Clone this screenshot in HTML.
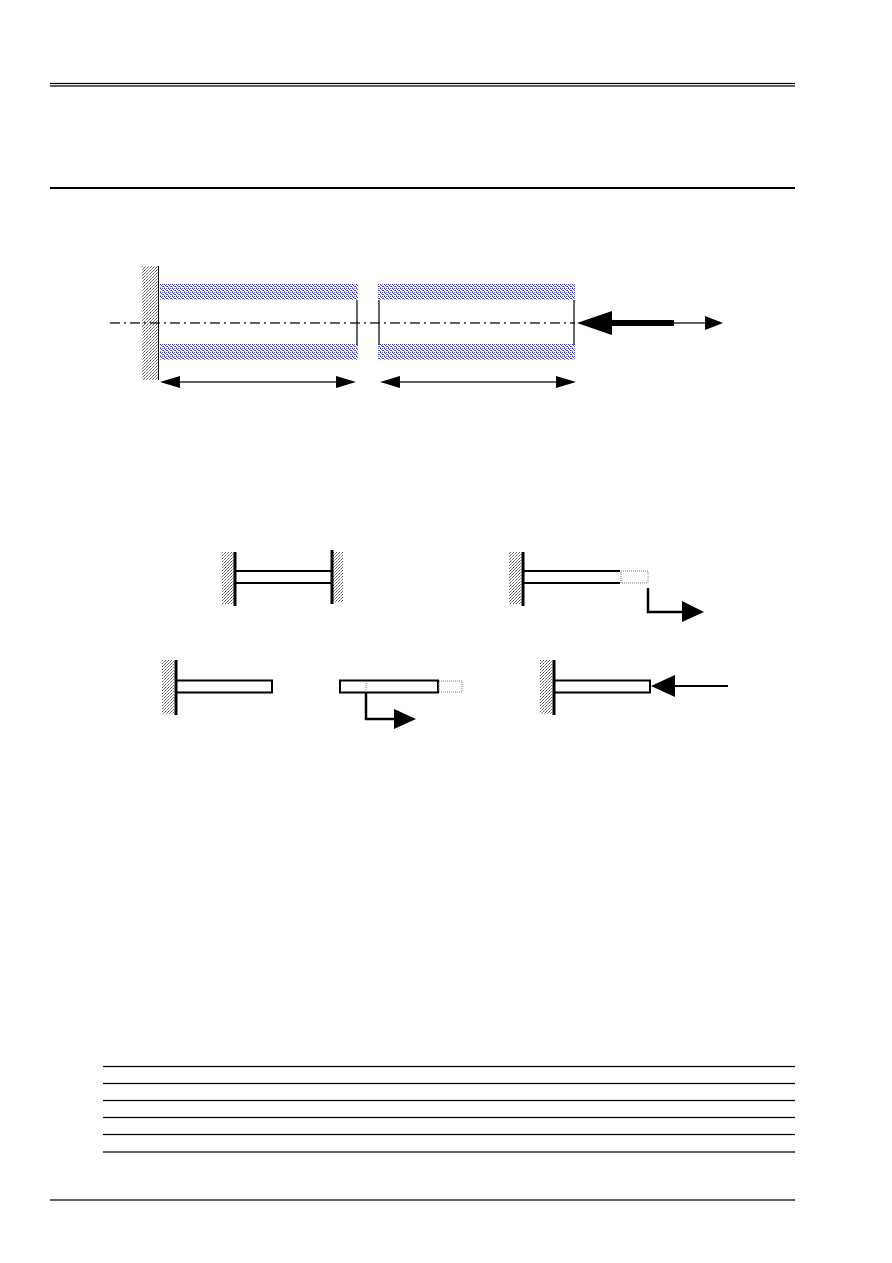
<!DOCTYPE html>
<html><head><style>html,body{margin:0;padding:0;background:#fff;}svg{display:block;}</style></head>
<body>
<svg width="892" height="1263" viewBox="0 0 892 1263" xmlns="http://www.w3.org/2000/svg">
<defs>
<pattern id="h" width="3" height="3" patternUnits="userSpaceOnUse"><rect width="3" height="3" fill="#fff"/><rect x="0" y="0" width="1" height="1" fill="#555"/><rect x="2" y="1" width="1" height="1" fill="#777"/><rect x="1" y="2" width="1" height="1" fill="#999"/></pattern>
<pattern id="b" width="4" height="4" patternUnits="userSpaceOnUse"><rect width="4" height="4" fill="#fff"/><rect x="0" y="0" width="1" height="1" fill="#33c"/><rect x="2" y="0" width="1" height="1" fill="#66d"/><rect x="1" y="1" width="1" height="1" fill="#44c"/><rect x="3" y="2" width="1" height="1" fill="#33c"/><rect x="0" y="3" width="1" height="1" fill="#77d"/><rect x="2" y="2" width="1" height="1" fill="#55c"/></pattern>
<pattern id="d" width="2" height="2" patternUnits="userSpaceOnUse"><rect width="2" height="2" fill="#fff"/><rect width="1" height="1" fill="#888"/></pattern>
</defs>
<g stroke="#000" fill="none">
<line x1="50" y1="83.5" x2="795" y2="83.5" stroke-width="1.3"/>
<line x1="50" y1="86" x2="795" y2="86" stroke-width="1.3"/>
<line x1="50" y1="188" x2="795" y2="188" stroke-width="2"/>
<g stroke-width="1.2">
<line x1="103" y1="1066.5" x2="795" y2="1066.5"/>
<line x1="103" y1="1083.5" x2="795" y2="1083.5"/>
<line x1="103" y1="1100.5" x2="795" y2="1100.5"/>
<line x1="103" y1="1117.5" x2="795" y2="1117.5"/>
<line x1="103" y1="1134.5" x2="795" y2="1134.5"/>
<line x1="103" y1="1152" x2="795" y2="1152"/>
<line x1="50" y1="1200" x2="795" y2="1200"/>
</g>
</g>
<!-- Figure 1 -->
<rect x="142" y="266" width="16" height="114" fill="url(#h)"/>
<line x1="158.5" y1="266" x2="158.5" y2="380" stroke="#000" stroke-width="1"/>
<rect x="160" y="284" width="198" height="16" fill="url(#b)"/>
<rect x="160" y="344" width="198" height="16" fill="url(#b)"/>
<rect x="378" y="284" width="197" height="16" fill="url(#b)"/>
<rect x="378" y="344" width="197" height="16" fill="url(#b)"/>
<g stroke="#000" stroke-width="1.2">
<line x1="357" y1="300" x2="357" y2="345"/>
<line x1="379" y1="300" x2="379" y2="345"/>
<line x1="574" y1="300" x2="574" y2="345"/>
<line x1="110" y1="323" x2="575" y2="323" stroke-dasharray="10,4,2,4"/>
<line x1="170" y1="382" x2="345" y2="382"/>
<line x1="390" y1="382" x2="565" y2="382"/>
<line x1="612" y1="323" x2="710" y2="323"/>
</g>
<rect x="610" y="320" width="64" height="6" fill="#000"/>
<polygon points="577,323 612,311 612,335" fill="#000"/>
<polygon points="723,323 705,316 705,330" fill="#000"/>
<polygon points="160,382 180,376 180,388" fill="#000"/>
<polygon points="356,382 336,376 336,388" fill="#000"/>
<polygon points="380,382 400,376 400,388" fill="#000"/>
<polygon points="576,382 556,376 556,388" fill="#000"/>
<!-- Figure 2 -->
<rect x="222" y="552" width="12" height="52" fill="url(#h)"/>
<rect x="333" y="552" width="10" height="50" fill="url(#h)"/>
<rect x="509" y="552" width="12" height="52" fill="url(#h)"/>
<rect x="162" y="660" width="12" height="54" fill="url(#h)"/>
<rect x="540" y="660" width="12" height="54" fill="url(#h)"/>
<g stroke="#000" fill="none">
<line x1="235" y1="552" x2="235" y2="606" stroke-width="3"/>
<line x1="332" y1="550" x2="332" y2="604" stroke-width="3"/>
<line x1="235" y1="571" x2="332" y2="571" stroke-width="2"/>
<line x1="235" y1="583" x2="332" y2="583" stroke-width="2"/>
<line x1="523" y1="552" x2="523" y2="606" stroke-width="3"/>
<line x1="523" y1="571" x2="620" y2="571" stroke-width="2"/>
<line x1="523" y1="583" x2="620" y2="583" stroke-width="2"/>
<rect x="621" y="571" width="27" height="12" stroke="#777" stroke-width="1" stroke-dasharray="1,1"/>
<polyline points="648,588 648,612 686,612" stroke-width="2.5"/>
<line x1="176" y1="660" x2="176" y2="715" stroke-width="3"/>
<rect x="176" y="680.5" width="96" height="12" stroke-width="2"/>
<rect x="340" y="680.5" width="98" height="12" stroke-width="2"/>
<rect x="439" y="681" width="23" height="11" stroke="#777" stroke-width="1" stroke-dasharray="1,1"/>
<line x1="366" y1="681" x2="366" y2="692" stroke="#777" stroke-width="1" stroke-dasharray="1,1"/>
<polyline points="366,692 366,719 397,719" stroke-width="2.5"/>
<line x1="554" y1="660" x2="554" y2="715" stroke-width="3"/>
<rect x="554" y="680.5" width="96" height="12" stroke-width="2"/>
<line x1="672" y1="686" x2="728" y2="686" stroke-width="2"/>
</g>
<polygon points="704,612 682,601 682,622" fill="#000"/>
<polygon points="416,719 394,709 394,729" fill="#000"/>
<polygon points="651,686 675,675 675,697" fill="#000"/>
</svg>
</body></html>
